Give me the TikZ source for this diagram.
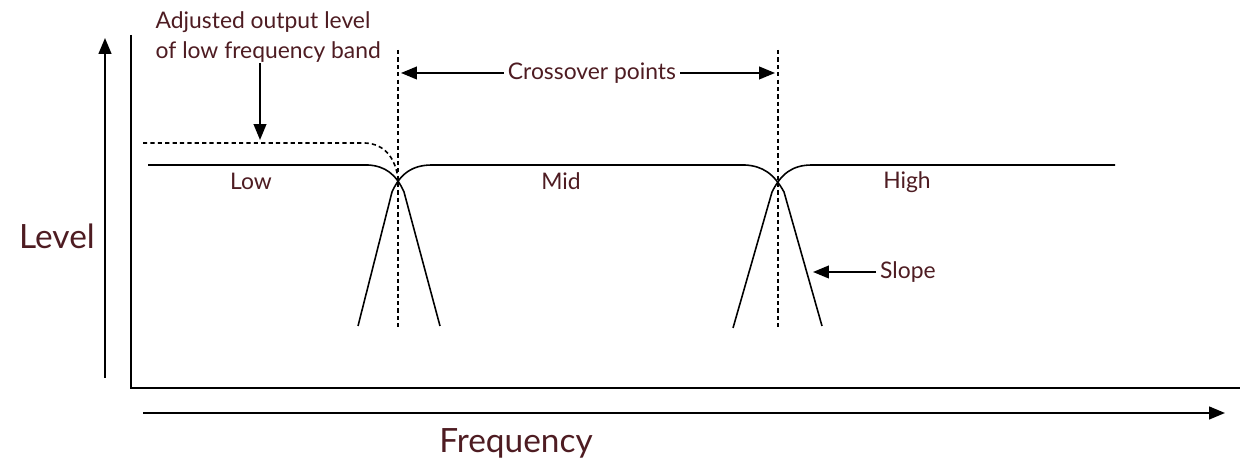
\documentclass[tikz,border=0pt]{standalone}
\usepackage{fontspec}
\setmainfont{Lato}
\usetikzlibrary{arrows.meta}
\definecolor{labelred}{RGB}{78,28,34}
\tikzset{
  curve/.style={line width=0.45pt},
  guide/.style={line width=0.45pt, dash pattern=on 1.2pt off 0.9pt},
  axis/.style={line width=0.55pt},
  small/.style={text=labelred, font=\fontsize{6.5}{8.5}\selectfont, inner sep=1pt},
  big/.style={text=labelred, font=\fontsize{9.5}{11}\selectfont, inner sep=0pt},
  >={Triangle[length=4.5pt,width=3.6pt]}
}
\begin{document}
\begin{tikzpicture}[x=0.01cm, y=-0.01cm]
		\useasboundingbox (0,0) rectangle (1246,465);

		% Achsen
		\coordinate (lvlbot) at (105,378);
		\coordinate (lvltop) at (105,38);
		\coordinate (frqleft) at (143,413);
		\coordinate (frqright) at (1225,413);
		\draw[axis, ->] (lvlbot) -- (lvltop);
		\draw[axis, ->] (frqleft) -- (frqright);
		\draw[axis] (131,35) -- (131,388) -- (1240,388);
		\node[big] (level) at (57,236) {Level};
		\node[big] (freq) at (516,443) {Frequency};

		% Trennfrequenzen
		\draw[guide] (398,50) -- (398,330);
		\draw[guide] (778,50) -- (778,330);

		% Baender
		\draw[curve] (148,165) -- (368,165) .. controls (385,166) and (396,174) .. (404,192) -- (440,326);
		\draw[curve] (358,326) -- (392,192) .. controls (400,174) and (412,165) .. (432,165)
		  -- (745,165) .. controls (763,166) and (774,174) .. (784,192) -- (822,326);
		\draw[curve] (733,328) -- (772,192) .. controls (781,174) and (792,165) .. (812,165) -- (1115,165);
		\node[small] (low) at (251,181) {Low};
		\node[small] (mid) at (561,181) {Mid};
		\node[small] (high) at (907,182) {High};

		% angepasster Pegel
		\draw[guide] (143,143) -- (365,143) .. controls (385,144) and (395,158) .. (398,178);
		\node[small, align=left, anchor=north west, inner sep=0pt] (adj) at (155,11)
		  {Adjusted output level\\of low frequency band};
		\coordinate (adjtip) at (260,140);
		\draw[curve, ->] (adj.south -| adjtip) -- (adjtip);

		% Crossover
		\node[small] (cross) at (592,73) {Crossover points};
		\coordinate (crossl) at (401,73);
		\coordinate (crossr) at (775,73);
		\draw[curve, ->] (cross.west) -- (crossl);
		\draw[curve, ->] (cross.east) -- (crossr);

		% Steilheit
		\node[small, anchor=west] (slope) at (876,272) {Slope};
		\coordinate (slopetip) at (813,272);
		\draw[curve, ->] (slope.west) -- (slopetip);
	\end{tikzpicture}
\end{document}
